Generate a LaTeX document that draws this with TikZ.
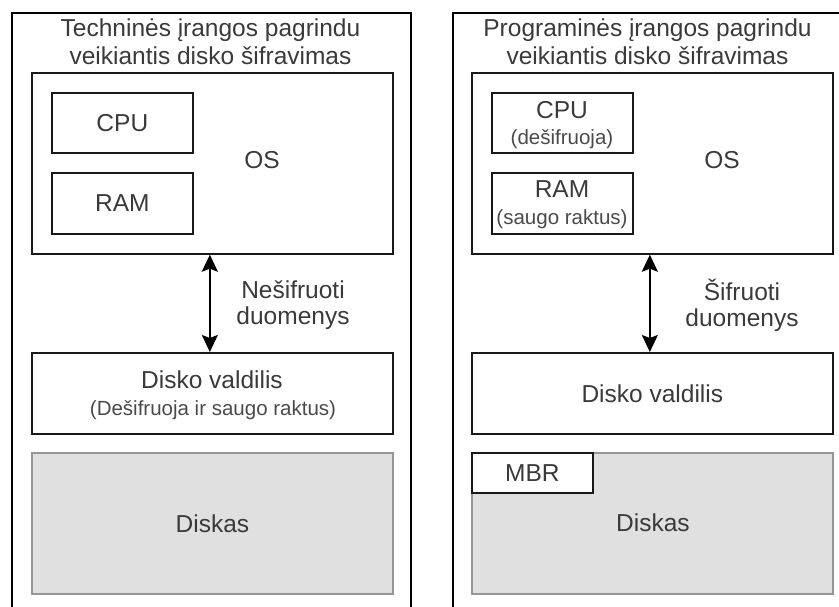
\documentclass[tikz,border=0pt]{standalone}
\usepackage{fontspec}
\setmainfont{Liberation Sans}
\usetikzlibrary{arrows.meta}
\definecolor{txt}{HTML}{3A3A3A}
\definecolor{subtxt}{HTML}{4A4A4A}
\definecolor{diskfill}{HTML}{E0E0E0}
\definecolor{diskline}{HTML}{969696}
\tikzset{
  panel/.style={draw=black, line width=1.9pt, anchor=north west, inner sep=0pt},
  unit/.style={draw=black!90, line width=1.7pt, anchor=north west, inner sep=0pt, fill=white},
  disk/.style={draw=diskline, fill=diskfill, line width=1.9pt, anchor=north west, inner sep=0pt},
  lbl/.style={text=txt, font=\fontsize{24.5}{28}\selectfont, align=center, inner sep=0pt},
  arrlbl/.style={text=txt, font=\fontsize{24.5}{26}\selectfont, align=center, inner sep=0pt},
  sublbl/.style={text=subtxt, font=\fontsize{20.5}{24}\selectfont, inner sep=0pt},
  link/.style={line width=1.8pt,
    {Stealth[length=17pt,width=16pt,inset=3pt]}-{Stealth[length=17pt,width=16pt,inset=3pt]}},
}
\begin{document}
\begin{tikzpicture}[x=1pt,y=-1pt]
\useasboundingbox (0,0) rectangle (839,606);
\clip (0,0) rectangle (839,606);

% ---- hardware-based encryption ----
\node[panel, minimum width=399pt, minimum height=620pt] (hwpanel) at (11,12) {};
\node[lbl] (hwtitle) at (210.5,42) {Techninės įrangos pagrindu\\veikiantis disko šifravimas};

\node[unit, minimum width=361pt, minimum height=181pt] (hwos) at (31,72) {};
\node[lbl] (hwoslbl) at (262,160) {OS};
\node[unit, minimum width=141pt, minimum height=60pt] (hwcpu) at (51,92) {};
\node[lbl] (hwcpulbl) at (hwcpu.center) {CPU};
\node[unit, minimum width=141pt, minimum height=61pt] (hwram) at (51,172) {};
\node[lbl] (hwramlbl) at (hwram.center) {RAM};

\node[unit, minimum width=361pt, minimum height=81pt] (hwctrl) at (31,352) {};
\node[lbl] (hwctrllbl) at (212,380) {Disko valdilis};
\node[sublbl] (hwctrlsub) at (213,410) {(Dešifruoja ir saugo raktus)};

\node[disk, minimum width=361pt, minimum height=141pt] (hwdisk) at (31,452) {};
\node[lbl] (hwdisklbl) at (hwdisk.center) {Diskas};

\draw[link] ([xshift=-2.5pt]hwos.south) -- ([xshift=-2.5pt]hwctrl.north);
\node[arrlbl] (hwflow) at (293,305) {Nešifruoti\\duomenys};

% ---- software-based encryption ----
\node[panel, minimum width=393pt, minimum height=620pt] (swpanel) at (452,12) {};
\node[lbl] (swtitle) at (647.5,42) {Programinės įrangos pagrindu\\veikiantis disko šifravimas};

\node[unit, minimum width=361pt, minimum height=181pt] (swos) at (471,72) {};
\node[lbl] (swoslbl) at (722,160) {OS};
\node[unit, minimum width=141pt, minimum height=60pt] (swcpu) at (491,92) {};
\node[lbl] (swcpulbl) at (562,110) {CPU};
\node[sublbl] (swcpusub) at (562,139) {(dešifruoja)};
\node[unit, minimum width=141pt, minimum height=61pt] (swram) at (491,172) {};
\node[lbl] (swramlbl) at (562,189) {RAM};
\node[sublbl] (swramsub) at (562,219) {(saugo raktus)};

\node[unit, minimum width=361pt, minimum height=81pt] (swctrl) at (471,352) {};
\node[lbl] (swctrllbl) at (swctrl.center) {Disko valdilis};

\node[disk, minimum width=361pt, minimum height=141pt] (swdisk) at (471,452) {};
\node[lbl] (swdisklbl) at (653,523) {Diskas};
\node[unit, minimum width=121pt, minimum height=40pt] (mbr) at (471,452) {};
\node[lbl] (mbrlbl) at (mbr.center) {MBR};

\draw[link] ([xshift=-2.5pt]swos.south) -- ([xshift=-2.5pt]swctrl.north);
\node[arrlbl] (swflow) at (742,305) {Šifruoti\\duomenys};
\end{tikzpicture}
\end{document}
